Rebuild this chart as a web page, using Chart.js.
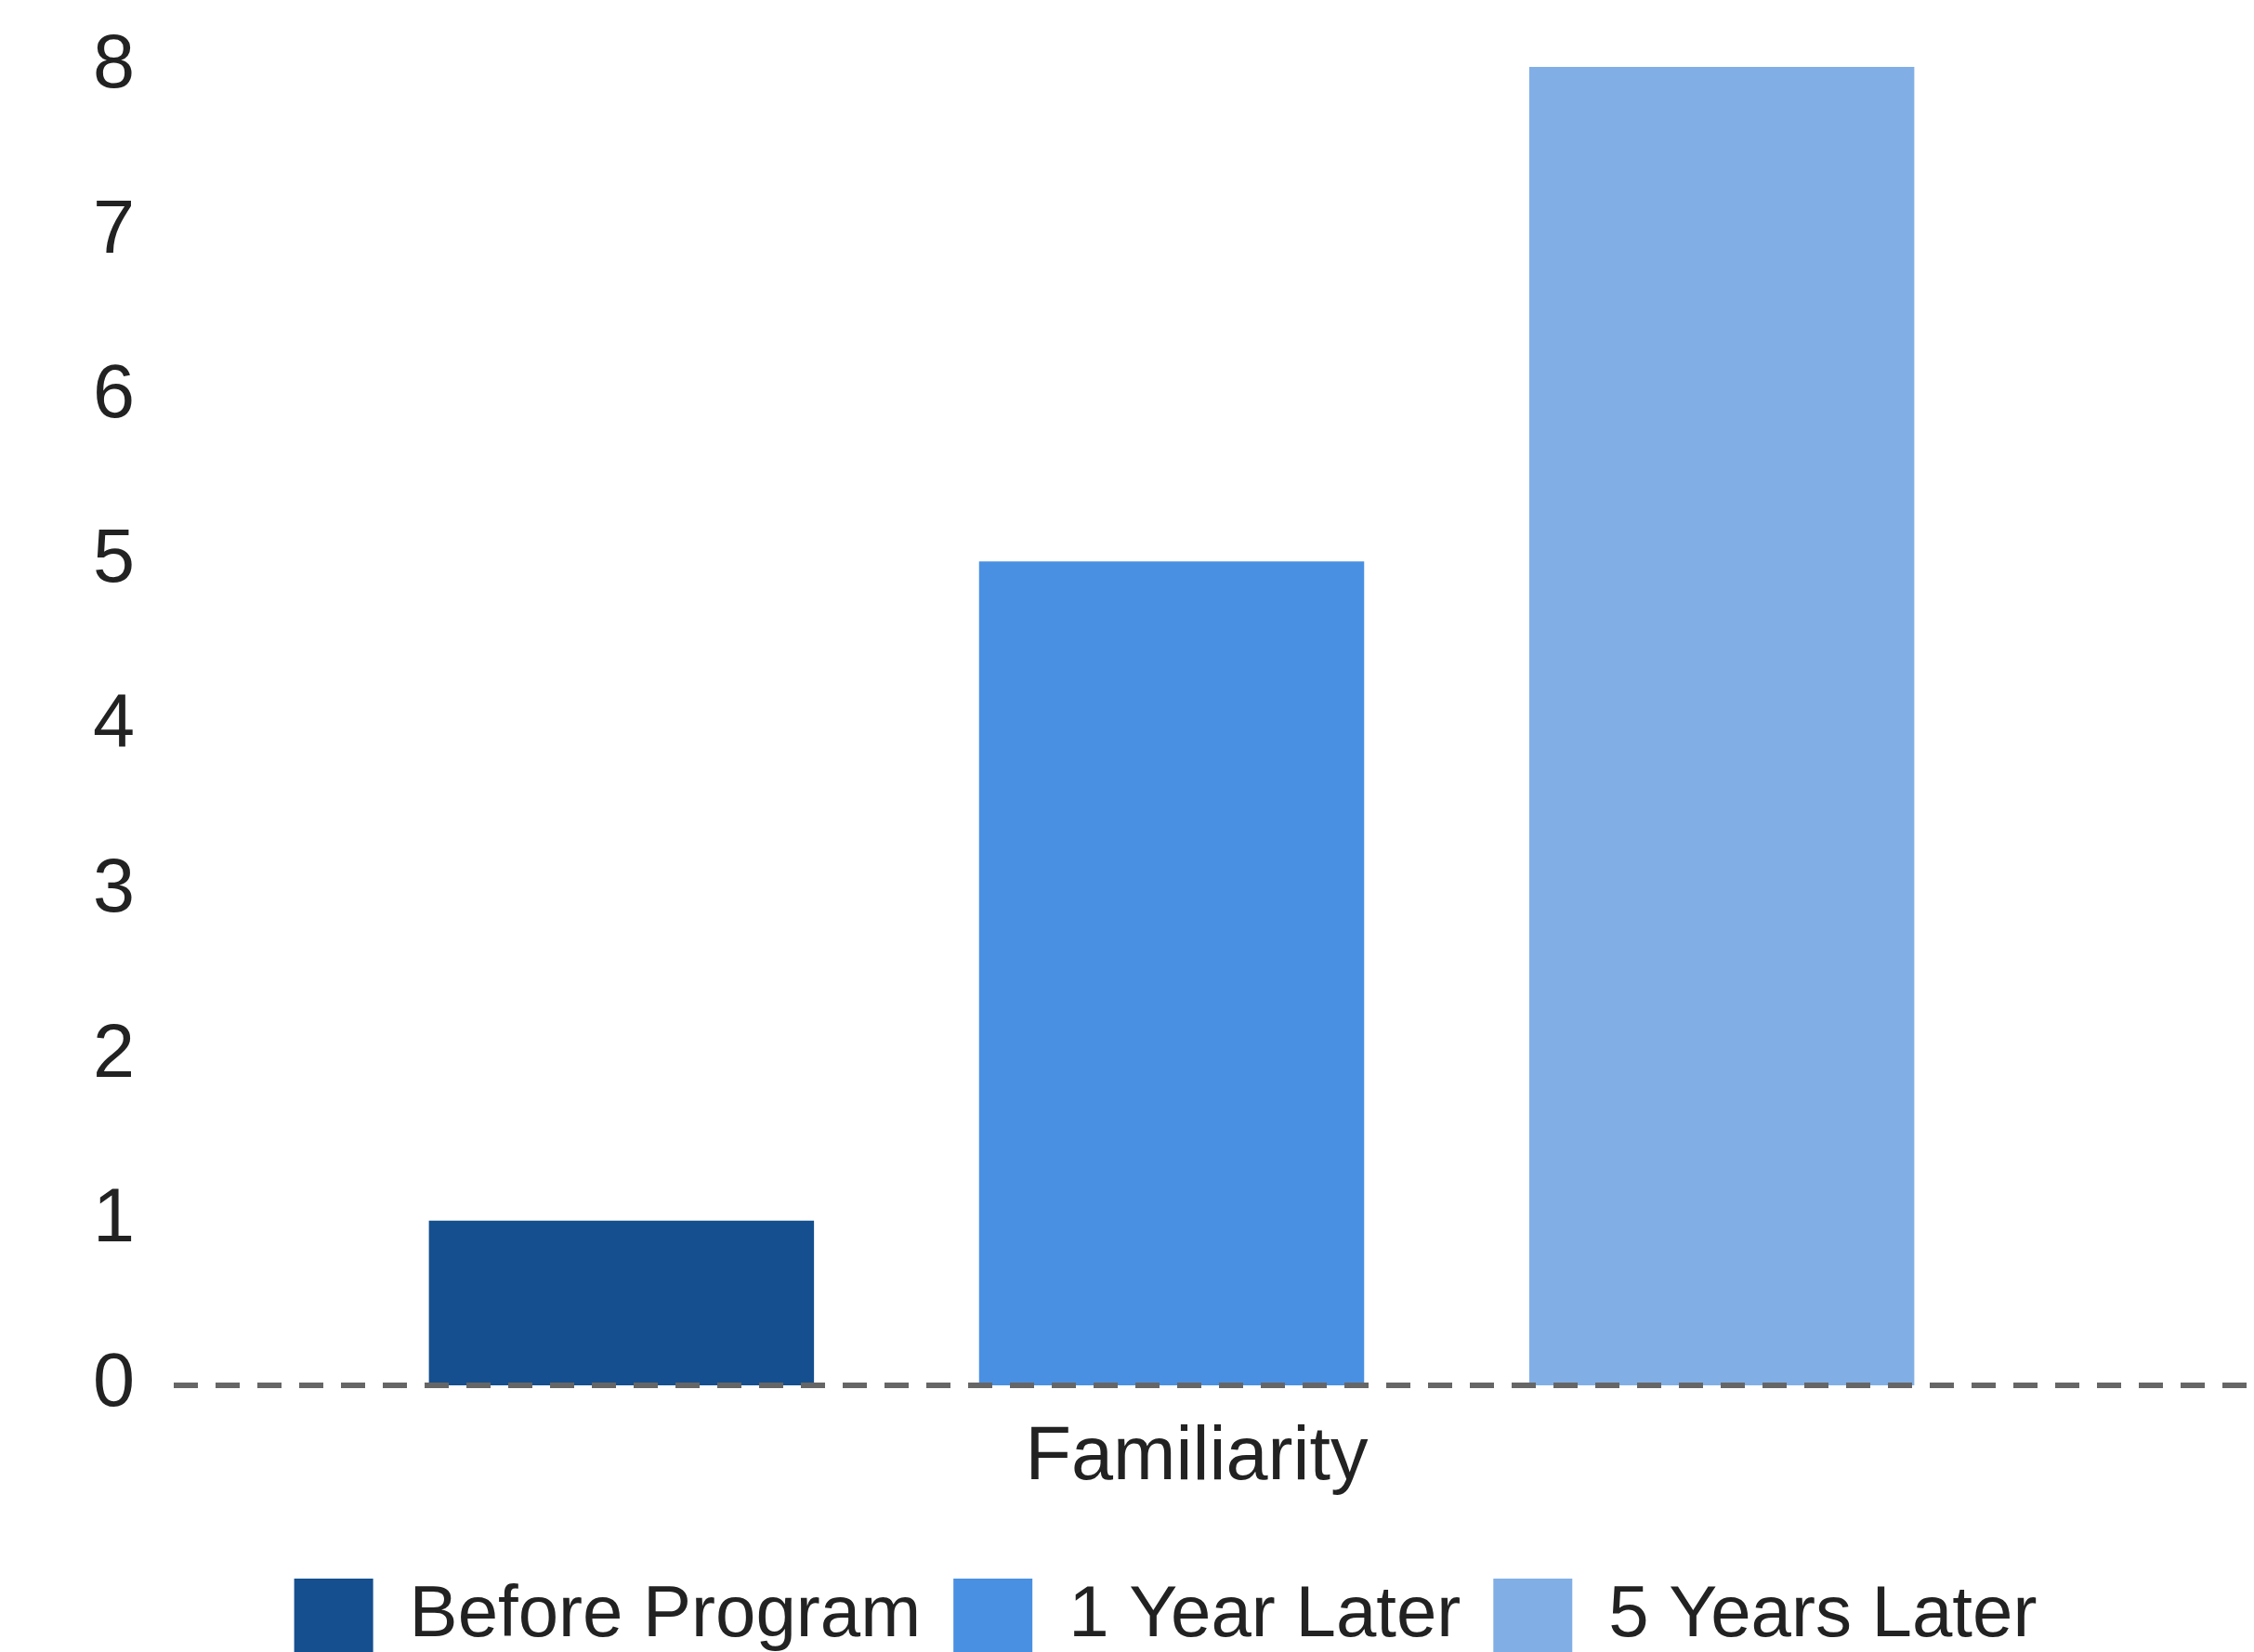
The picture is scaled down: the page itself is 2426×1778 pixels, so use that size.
<!DOCTYPE html>
<html>
<head>
<meta charset="utf-8">
<script src="https://cdn.jsdelivr.net/npm/chart.js@4.4.1/dist/chart.umd.min.js"></script>
<style>
  html, body { margin: 0; padding: 0; background: #fff; }
  #wrap { width: 2426px; height: 1778px; }
</style>
</head>
<body>
<div id="wrap"><canvas id="mycanvas" width="2426" height="1778"></canvas></div>
<script>
// data
var categories = ["Familiarity"];
var seriesNames = ["Before Program", "1 Year Later", "5 Years Later"];
var beforeProgram = [1];
var oneYearLater = [5];
var fiveYearsLater = [8];
var yTicks = [0, 1, 2, 3, 4, 5, 6, 7, 8];

var colors = ["#154f8f", "#4a90e2", "#81afe5"];
var textColor = "#222222";
var fontFamily = "'Liberation Sans', Arial, sans-serif";

// dashed line at y = 0, runs out to the right edge of the canvas
const zeroLine = {
  id: "zeroLine",
  afterDatasetsDraw: function (chart) {
    var ctx = chart.ctx;
    var y = chart.scales.y.getPixelForValue(0);
    ctx.save();
    ctx.strokeStyle = "#666666";
    ctx.lineWidth = 6;
    ctx.setLineDash([26, 19]);
    ctx.beginPath();
    ctx.moveTo(chart.chartArea.left, y);
    ctx.lineTo(chart.width, y);
    ctx.stroke();
    ctx.restore();
  }
};

var allSeries = [beforeProgram, oneYearLater, fiveYearsLater];
var datasets = [];
for (var i in allSeries) {
  datasets.push({
    label: seriesNames[i],
    data: allSeries[i],
    backgroundColor: colors[i],
    borderWidth: 0,
    yAxisID: "y",
    categoryPercentage: 0.827,
    barPercentage: 0.70
  });
}

const config = {
  type: "bar",
  data: { labels: categories, datasets: datasets },
  options: {
    responsive: false,
    devicePixelRatio: 1,
    animation: false,
    layout: { padding: { left: 95, right: 12, top: 72, bottom: -11 } },
    plugins: {
      tooltip: { enabled: false },
      legend: {
        position: "bottom",
        labels: {
          boxWidth: 85,
          boxHeight: 80,
          padding: 35,
          color: textColor,
          font: { family: fontFamily, size: 78 }
        }
      }
    },
    scales: {
      x: {
        grid: { display: false, drawTicks: false },
        border: { display: false },
        afterFit: function (scale) { scale.height = 173; },
        ticks: {
          color: textColor,
          padding: 30,
          labelOffset: 27,
          font: { family: fontFamily, size: 81 }
        }
      },
      y: {
        min: 0,
        max: 8,
        grid: { display: false, drawTicks: false },
        border: { display: false },
        afterFit: function (scale) {
          scale.width = 92;
          scale.paddingTop = 0;
          scale.paddingBottom = 0;
        },
        afterBuildTicks: function (scale) {
          scale.ticks = yTicks.map(function (v) { return { value: v }; });
        },
        ticks: {
          color: textColor,
          padding: 42,
          font: { family: fontFamily, size: 81 }
        }
      },
      // empty axis on the right, keeps the plot narrower than the legend row
      yRight: {
        axis: "y",
        position: "right",
        min: 0,
        max: 8,
        grid: { display: false, drawTicks: false },
        border: { display: false },
        ticks: { display: false },
        afterFit: function (scale) {
          scale.width = 79;
          scale.paddingTop = 0;
          scale.paddingBottom = 0;
        }
      }
    }
  },
  plugins: [zeroLine]
};

var ctx = document.getElementById("mycanvas");
const myChart = new Chart(ctx, config);
</script>
</body>
</html>
